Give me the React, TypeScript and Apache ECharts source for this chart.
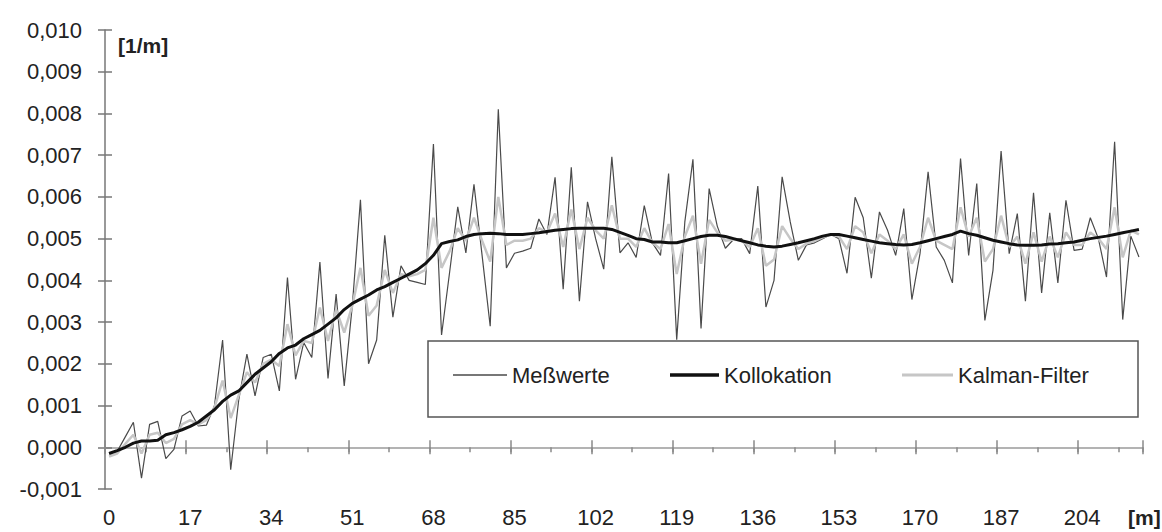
import React, { useEffect, useRef } from "react";
import * as echarts from "echarts";

// x tick labels (distance in m), shown every 10th measurement point
const TICK_LABELS = ["0", "17", "34", "51", "68", "85", "102", "119", "136", "153", "170", "187", "204"];
const STEP_M = 1.7;

// values in 0.001 1/m
const MESSWERTE = [
  -0.15, -0.1, 0.25, 0.6, -0.74, 0.55, 0.62, -0.27, -0.05, 0.75,
  0.87, 0.51, 0.53, 1.0, 2.57, -0.54, 1.15, 2.23, 1.23, 2.15,
  2.23, 1.35, 4.07, 1.63, 2.51, 2.15, 4.44, 1.65, 3.67, 1.47,
  3.4, 5.93, 2.0, 2.57, 5.08, 3.12, 4.35, 4.0, 3.95, 3.9,
  7.27, 2.69, 4.2, 5.76, 4.66, 6.3, 4.6, 2.9, 8.1, 4.3,
  4.65, 4.7, 4.77, 5.47, 5.1, 6.47, 3.79, 6.71, 3.5, 5.88,
  5.0, 4.27, 6.96, 4.66, 4.9, 4.55, 5.79, 4.9, 4.6, 6.56,
  2.58, 5.4, 6.9, 2.85, 6.2, 5.3, 4.77, 4.98, 5.0, 4.64,
  6.26, 3.36, 4.0, 6.48, 5.4, 4.48, 4.85, 4.9, 5.0, 5.1,
  5.0, 4.17, 5.99, 5.5, 4.05, 5.64, 5.2, 4.6, 5.72, 3.54,
  4.64, 6.6, 4.8, 4.48, 3.94, 6.92, 4.6, 6.32, 3.04, 4.24,
  7.1, 4.64, 5.6, 3.5, 6.1, 3.7, 5.62, 3.94, 5.92, 4.72,
  4.75, 5.5, 5.0, 4.08, 7.32, 3.06, 5.06, 4.56,
];

const KOLLOKATION = [
  -0.15, -0.08, 0.0, 0.1, 0.15, 0.15, 0.17, 0.3, 0.35, 0.42,
  0.5, 0.6, 0.75, 0.9, 1.1, 1.25, 1.35, 1.55, 1.75, 1.9,
  2.05, 2.25, 2.38, 2.45, 2.6, 2.7, 2.8, 2.95, 3.1, 3.3,
  3.45, 3.55, 3.65, 3.77, 3.85, 3.95, 4.05, 4.15, 4.25, 4.4,
  4.6, 4.88, 4.93, 4.97, 5.05, 5.1, 5.12, 5.13, 5.12, 5.1,
  5.1, 5.1, 5.12, 5.14, 5.17, 5.2, 5.22, 5.24, 5.25, 5.25,
  5.25, 5.25, 5.22, 5.15, 5.08, 5.0, 4.98, 4.92, 4.92, 4.9,
  4.9, 4.95, 5.0, 5.05, 5.08, 5.08, 5.05, 5.0, 4.95, 4.9,
  4.85, 4.82, 4.8, 4.82, 4.86, 4.9, 4.95, 5.0, 5.06, 5.1,
  5.1, 5.06, 5.02, 4.98, 4.94, 4.9, 4.88, 4.86, 4.85, 4.86,
  4.9, 4.95, 5.0, 5.05, 5.1, 5.18, 5.12, 5.08, 5.02, 4.96,
  4.92, 4.88, 4.85, 4.84, 4.84, 4.85, 4.87, 4.88, 4.9, 4.92,
  4.96, 5.0, 5.03, 5.06, 5.1, 5.14, 5.18, 5.22,
];

const KALMAN = [
  -0.22, -0.15, 0.08, 0.3, -0.15, 0.3, 0.35, 0.1, 0.2, 0.55,
  0.65, 0.55, 0.65, 0.95, 1.6, 0.7, 1.25, 1.8, 1.55, 2.0,
  2.1, 1.95, 2.95, 2.2, 2.55, 2.5, 3.35, 2.55, 3.3, 2.75,
  3.4, 4.3, 3.15, 3.4, 4.25, 3.7, 4.15, 4.1, 4.15, 4.25,
  5.5, 4.3, 4.7, 5.25, 4.95, 5.5, 4.95, 4.45, 6.0, 4.85,
  4.95, 4.95, 5.0, 5.25, 5.15, 5.6, 4.8, 5.7, 4.75, 5.5,
  5.2, 5.0, 5.8, 5.0, 5.0, 4.8, 5.25, 4.9, 4.75, 5.35,
  4.15, 5.05, 5.55, 4.4, 5.45, 5.15, 4.95, 4.98, 4.95, 4.8,
  5.25, 4.35, 4.5, 5.3, 5.0, 4.75, 4.88, 4.95, 5.03, 5.1,
  5.05, 4.75, 5.3, 5.15, 4.65, 5.1, 4.95, 4.75, 5.1, 4.4,
  4.8, 5.5, 4.95, 4.85, 4.75, 5.75, 5.05, 5.5, 4.45, 4.75,
  5.55, 4.8, 5.05, 4.4, 5.15, 4.45, 5.05, 4.55, 5.15, 4.85,
  4.85, 5.15, 5.0, 4.75, 5.75, 4.55, 5.2, 5.1,
];

const CATEGORIES = MESSWERTE.map((_, i) => (i * STEP_M).toFixed(1));

const FONT = "'Liberation Sans', Arial, sans-serif";

export default function App() {
  const ref = useRef<HTMLDivElement>(null);

  useEffect(() => {
    const chart = echarts.init(ref.current!, null, { renderer: "svg" });

    const tickLine = { color: "#8a8a8a", width: 1.5 };
    const hiddenX = (extra: any) => ({
      type: "category",
      data: CATEGORIES,
      boundaryGap: true,
      axisLabel: { show: false },
      splitLine: { show: false },
      ...extra,
    });

    const legendBase = {
      orient: "horizontal",
      top: 363,
      padding: 0,
      icon: "rect",
      itemGap: 0,
      textStyle: { fontSize: 22, lineHeight: 24, color: "#222", fontFamily: FONT },
      z: 6,
    };

    chart.setOption({
      animation: false,
      backgroundColor: "#ffffff",
      grid: { left: 105, right: 19, top: 30, bottom: 43, containLabel: false },
      xAxis: [
        {
          type: "category",
          data: CATEGORIES,
          position: "bottom",
          boundaryGap: true,
          axisLine: { show: false, onZero: false },
          axisTick: { show: false },
          splitLine: { show: false },
          axisLabel: {
            interval: 9,
            margin: 17,
            fontSize: 22,
            color: "#222",
            fontFamily: FONT,
            formatter: (_v: string, i: number) => TICK_LABELS[i / 10] ?? "",
          },
        },
        hiddenX({
          position: "bottom",
          axisLine: { show: true, onZero: true, onZeroAxisIndex: 0, lineStyle: { color: "#9a9a9a", width: 1.5 } },
          axisTick: { show: true, interval: 9, length: 7, lineStyle: tickLine },
        }),
        hiddenX({
          position: "bottom",
          axisLine: { show: false, onZero: true, onZeroAxisIndex: 0 },
          axisTick: { show: true, inside: true, interval: 9, length: 7, lineStyle: tickLine },
        }),
        hiddenX({
          position: "bottom",
          axisLine: { show: false, onZero: true, onZeroAxisIndex: 0 },
          axisTick: { show: true, interval: 4, length: 5, lineStyle: tickLine },
        }),
      ],
      yAxis: [
        {
          type: "value",
          position: "left",
          min: -1,
          max: 10,
          interval: 1,
          splitLine: { show: false },
          axisLine: { show: true, lineStyle: { color: "#777", width: 1.5 } },
          axisTick: { show: true, length: 7, lineStyle: { color: "#777", width: 1.5 } },
          axisLabel: {
            margin: 23,
            fontSize: 22,
            color: "#222",
            fontFamily: FONT,
            formatter: (v: number) => (v / 1000).toFixed(3).replace(".", ","),
          },
        },
        {
          type: "value",
          position: "left",
          min: -1,
          max: 10,
          interval: 1,
          splitLine: { show: false },
          axisLine: { show: false },
          axisTick: { show: true, inside: true, length: 7, lineStyle: { color: "#777", width: 1.5 } },
          axisLabel: { show: false },
        },
      ],
      legend: [
        { ...legendBase, left: 453, itemWidth: 54, itemHeight: 1.5, data: ["Meßwerte"] },
        { ...legendBase, left: 670, itemWidth: 49, itemHeight: 3.5, data: ["Kollokation"] },
        { ...legendBase, left: 902, itemWidth: 51, itemHeight: 3, data: ["Kalman-Filter"] },
      ],
      series: [
        {
          name: "Meßwerte",
          type: "line",
          data: MESSWERTE,
          symbol: "none",
          z: 2,
          lineStyle: { color: "#4a4a4a", width: 1.2 },
          itemStyle: { color: "#4a4a4a" },
        },
        {
          name: "Kalman-Filter",
          type: "line",
          data: KALMAN,
          symbol: "none",
          z: 3,
          lineStyle: { color: "#c6c6c6", width: 2.5 },
          itemStyle: { color: "#c6c6c6" },
        },
        {
          name: "Kollokation",
          type: "line",
          data: KOLLOKATION,
          symbol: "none",
          z: 4,
          lineStyle: { color: "#111", width: 3 },
          itemStyle: { color: "#111" },
        },
      ],
      graphic: [
        {
          type: "rect",
          z: 5,
          shape: { x: 428, y: 341, width: 710, height: 76 },
          style: { fill: "#fff", stroke: "#555", lineWidth: 1.5 },
        },
        {
          type: "text",
          x: 118,
          y: 45,
          style: {
            text: "[1/m]",
            font: `bold 21px ${FONT}`,
            fill: "#222",
            textVerticalAlign: "middle",
          },
        },
        {
          type: "text",
          x: 1128,
          y: 517,
          style: {
            text: "[m]",
            font: `bold 21px ${FONT}`,
            fill: "#222",
            textVerticalAlign: "middle",
          },
        },
      ],
    });

    return () => chart.dispose();
  }, []);

  return (
    <div
      ref={ref}
      style={{ position: "absolute", left: 0, top: 0, width: 1162, height: 532 }}
    />
  );
}
